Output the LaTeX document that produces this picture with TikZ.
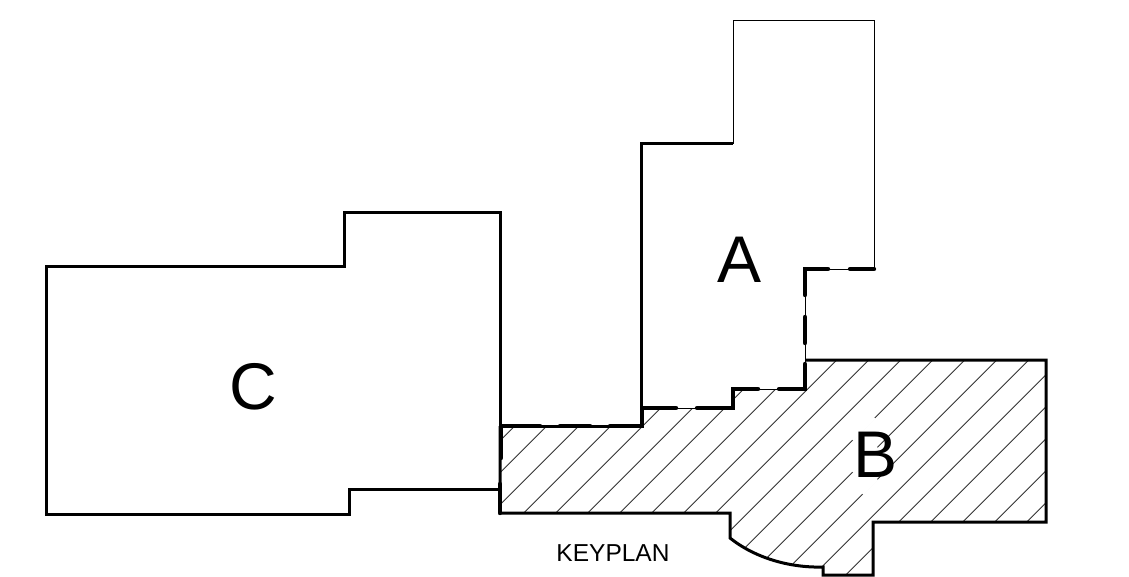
\documentclass[tikz,border=0pt]{standalone}
\usepackage{fontspec}
\setmainfont{Liberation Sans}
\tikzset{
  outline/.style={draw=black,line width=3pt,line join=miter},
  thinline/.style={draw=black,line width=0.85pt},
  heavydash/.style={draw=black,line width=4.4pt,line cap=round,line join=miter},
  hatchline/.style={draw=black!80,line width=0.8pt},
  hatchgap/.style={draw=white,line width=2.4pt},
  bigletter/.style={font=\fontsize{66}{66}\selectfont,anchor=base,inner sep=0pt},
  smallletter/.style={font=\fontsize{24.5}{24.5}\selectfont,anchor=base,inner sep=0pt}
}
\begin{document}
\begin{tikzpicture}[x=1pt,y=-1pt]
\useasboundingbox[fill=white] (0,0) rectangle (1129,577);
% hatch of B
\begin{scope}
\clip (500,426) -- (641,426) -- (641,408) -- (733,408) -- (733,389) -- (805,389) -- (805,360) -- (1046,360) -- (1046,522) -- (873,522) -- (873,575) -- (823,575) -- (823,567) .. controls (790,568) and (755,558) .. (730,538) -- (730,513) -- (500,513) -- cycle;
\foreach \k in {-3,...,16}{
  \pgfmathsetmacro{\c}{1036.7+32*\k}
  \draw[hatchline] (480,\c-480) -- (1060,\c-1060);
}
\draw[hatchgap] (852.7,440) -- (874.7,418);
\draw[hatchgap] (852.7,472) -- (877.3,447.4);
\draw[hatchgap] (862.7,494) -- (877.3,479.4);
\end{scope}
% C
\draw[outline] (500,489) -- (349,489) -- (349,514) -- (46,514) -- (46,267) -- (344,267) -- (344,213) -- (500,213) -- (500,426);
% A
\draw[outline] (641,408) -- (641,144) -- (733,144);
\draw[thinline] (733,144) -- (733,20) -- (874,20) -- (874,269);
% B
\draw[outline] (500,426) -- (500,513) -- (730,513) -- (730,538) .. controls (755,558) and (790,568) .. (823,567) -- (823,575) -- (873,575) -- (873,522) -- (1046,522) -- (1046,360) -- (805,360);
% shared boundary, thin under heavy dashes
\draw[thinline] (874,269) -- (805,269) -- (805,389) -- (733,389) -- (733,408) -- (641,408);
\draw[outline] (500,426) -- (641,426) -- (641,408);
\draw[heavydash] (874,269) -- (850,269);
\draw[heavydash] (828,269) -- (805,269) -- (805,295);
\draw[heavydash] (805,317) -- (805,343);
\draw[heavydash] (805,364) -- (805,389) -- (779,389);
\draw[heavydash] (758,389) -- (733,389) -- (733,408) -- (697,408);
\draw[heavydash] (676,408) -- (642,408) -- (642,426) -- (610,426);
\draw[heavydash] (590,426) -- (560,426);
\draw[heavydash] (540,426) -- (501,426) -- (501,458);
\draw[heavydash] (500,484) -- (500,513);
% labels
\node[bigletter] (labelA) at (739,282) {A};
\node[bigletter] (labelB) at (875,477) {B};
\node[bigletter] (labelC) at (253,409) {C};
\node[smallletter] (labelK) at (613,561) {KEYPLAN};
\end{tikzpicture}
\end{document}
